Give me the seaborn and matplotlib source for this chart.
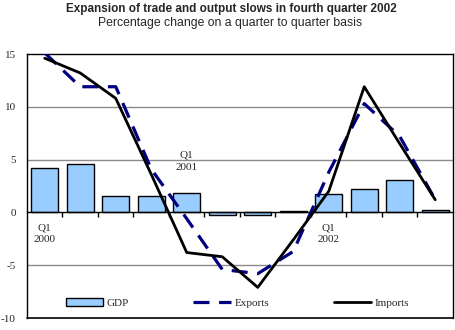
import numpy as np
import pandas as pd
import matplotlib
matplotlib.use("Agg")
import matplotlib.pyplot as plt
import seaborn as sns

quarters = ["2000Q1", "2000Q2", "2000Q3", "2000Q4",
            "2001Q1", "2001Q2", "2001Q3", "2001Q4",
            "2002Q1", "2002Q2", "2002Q3", "2002Q4"]
gdp = [4.2, 4.6, 1.6, 1.6, 1.8, -0.2, -0.2, 0.15, 1.75, 2.2, 3.1, 0.2]
exports = [15.1, 11.9, 11.9, 4.1, -0.6, -5.4, -5.8, -3.7, 3.8, 10.3, 7.2, 1.2]
imports = [14.6, 13.2, 10.8, 3.6, -3.8, -4.2, -7.1, -2.6, 2.0, 11.9, 6.5, 1.2]
year_labels = {0: "Q1\n2000", 4: "Q1\n2001", 8: "Q1\n2002"}
label_y = {0: -2.05, 4: 4.85, 8: -2.05}
yticks = [15, 10, 5, 0, -5, -10]

df = pd.DataFrame({"quarter": quarters, "pos": np.arange(len(quarters)),
                   "GDP": gdp, "Exports": exports, "Imports": imports})

sns.set_theme(style="white")
plt.rcParams["font.family"] = ["Liberation Serif", "DejaVu Serif"]

fig = plt.figure(figsize=(4.56, 3.30), dpi=100)
ax = fig.add_axes([27/456, 12/330, 426/456, 264/330])

for g in (10, 5, -5):
    ax.axhline(g, color="#8c8c8c", lw=1, zorder=0)

sns.barplot(data=df, x="quarter", y="GDP", color="#99CCFF", edgecolor="black",
            linewidth=1, width=0.76, saturation=1, ax=ax, label="GDP", zorder=2)
sns.lineplot(data=df, x="pos", y="Exports", color="#000080", lw=2.3,
             dashes=False, ax=ax, label="Exports", zorder=3)
ax.lines[-1].set_dashes((5, 3))
sns.lineplot(data=df, x="pos", y="Imports", color="black", lw=2.0,
             ax=ax, label="Imports", zorder=4)

ax.set_xlim(-0.5, len(quarters) - 0.5)
ax.set_ylim(-10, 15)
ax.set_xlabel("")
ax.set_ylabel("")

ax.spines["bottom"].set_position(("data", 0))
for s in ax.spines.values():
    s.set_color("black")
    s.set_linewidth(1)
ax.plot([0, 1], [0, 0], transform=ax.transAxes, color="black", lw=1.2,
        clip_on=False, zorder=5)

ax.set_xticks(np.arange(0.5, len(quarters) - 0.5, 1.0))
ax.set_xticklabels([])
ax.tick_params(axis="x", direction="out", length=3.5, width=1, color="black",
               bottom=True)
ax.set_yticks(yticks)
ax.set_yticklabels([str(v) for v in yticks])
ax.tick_params(axis="y", length=0, pad=8, labelsize=8)

for i, txt in year_labels.items():
    ax.text(i, label_y[i], txt, ha="center", va="center", fontsize=8,
            linespacing=1.4)

handles, labels = ax.get_legend_handles_labels()
order = [labels.index(n) for n in ("GDP", "Exports", "Imports")]
leg = ax.legend([handles[i] for i in order], [labels[i] for i in order],
                loc="center left", bbox_to_anchor=(0.08, 0.057), ncol=3,
                frameon=False, fontsize=8, handlelength=3.4,
                handletextpad=0.3, columnspacing=5.8, borderaxespad=0)

fig.text(0.508, 0.973, "Expansion of trade and output slows in fourth quarter 2002",
         ha="center", va="center", fontsize=8.5, fontweight="bold",
         family=["Liberation Sans", "DejaVu Sans"])
fig.text(0.505, 0.930, "Percentage change on a quarter to quarter basis",
         ha="center", va="center", fontsize=8.8,
         family=["Liberation Sans", "DejaVu Sans"])

fig.savefig("out.png", dpi=100)
